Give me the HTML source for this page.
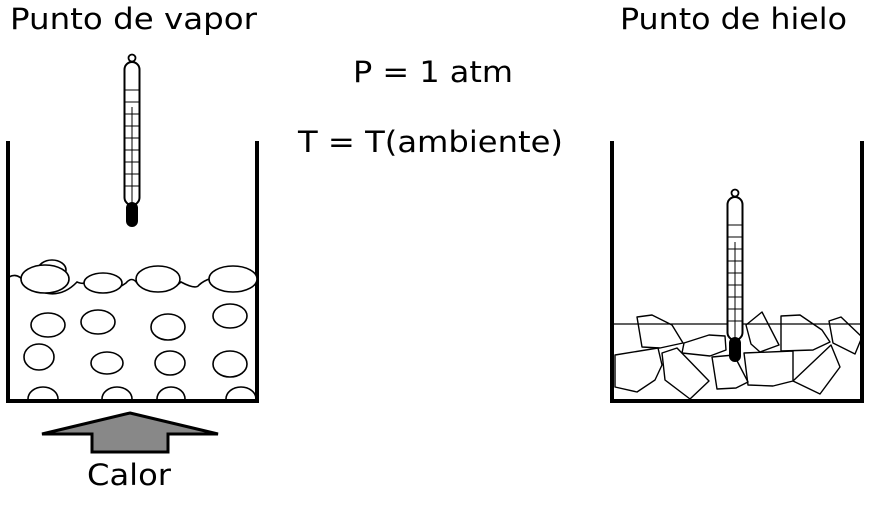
<!DOCTYPE html>
<html><head><meta charset="utf-8"><style>
html,body{margin:0;padding:0;background:#fff;width:885px;height:508px;overflow:hidden}
svg{display:block}
text{font-family:"DejaVu Sans","Liberation Sans",sans-serif;font-size:29px;fill:#000}
</style></head><body>
<svg width="885" height="508" viewBox="0 0 885 508" xmlns="http://www.w3.org/2000/svg">
<defs>
<g id="th">
  <circle cx="0" cy="-4" r="3.5" fill="none" stroke="#000" stroke-width="1.8"/>
  <rect x="-7.5" y="0" width="15" height="143" rx="7.5" fill="#fff" stroke="#000" stroke-width="2"/>
  <rect x="-6" y="140" width="12" height="25" rx="6" fill="#000"/>
  <g stroke="#000" stroke-width="1">
    <line x1="0" y1="45" x2="0" y2="142"/>
    <line x1="-7" y1="28" x2="7" y2="28"/><line x1="-7" y1="40" x2="7" y2="40"/>
    <line x1="-7" y1="52" x2="7" y2="52"/><line x1="-7" y1="64" x2="7" y2="64"/>
    <line x1="-7" y1="76" x2="7" y2="76"/><line x1="-7" y1="88" x2="7" y2="88"/>
    <line x1="-7" y1="100" x2="7" y2="100"/><line x1="-7" y1="112" x2="7" y2="112"/>
    <line x1="-7" y1="124" x2="7" y2="124"/>
  </g>
</g>
</defs>
<text x="10" y="29" textLength="247" lengthAdjust="spacingAndGlyphs">Punto de vapor</text>
<text x="620" y="29" textLength="227" lengthAdjust="spacingAndGlyphs">Punto de hielo</text>
<text x="353" y="82" textLength="160" lengthAdjust="spacingAndGlyphs">P = 1 atm</text>
<text x="298" y="152" textLength="265" lengthAdjust="spacingAndGlyphs">T = T(ambiente)</text>
<text x="87" y="485" textLength="84" lengthAdjust="spacingAndGlyphs">Calor</text>

<!-- left beaker -->
<path d="M8 141 V401 H257 V141" fill="none" stroke="#000" stroke-width="4"/>
<use href="#th" x="132" y="62"/>
<g fill="none" stroke="#000" stroke-width="1.6">
  <ellipse cx="52" cy="270" rx="14" ry="10"/>
  <path d="M9 277 Q18 272 25 283 Q55 305 77 282 Q82 284 84 283 Q102 300 126 283 Q132 276 137 283 Q160 300 181 282 Q196 290 199 285 Q215 270 257 282"/>
  <ellipse cx="45" cy="279" rx="24" ry="14" fill="#fff"/>
  <ellipse cx="103" cy="283" rx="19" ry="10" fill="#fff"/>
  <ellipse cx="158" cy="279" rx="22" ry="13" fill="#fff"/>
  <ellipse cx="233" cy="279" rx="24" ry="13" fill="#fff"/>
  <ellipse cx="48" cy="325" rx="17" ry="12"/>
  <ellipse cx="98" cy="322" rx="17" ry="12"/>
  <ellipse cx="168" cy="327" rx="17" ry="13"/>
  <ellipse cx="230" cy="316" rx="17" ry="12"/>
  <ellipse cx="39" cy="357" rx="15" ry="13"/>
  <ellipse cx="107" cy="363" rx="16" ry="11"/>
  <ellipse cx="170" cy="363" rx="15" ry="12"/>
  <ellipse cx="230" cy="364" rx="17" ry="13"/>
  <path d="M28 399 A15 12 0 0 1 58 399"/>
  <path d="M102 399 A15 12 0 0 1 132 399"/>
  <path d="M157 399 A14 12 0 0 1 185 399"/>
  <path d="M226 399 A15 12 0 0 1 256 399"/>
</g>
<polygon points="130,413 218,434 168,434 168,452 92,452 92,434 42,434" fill="#888" stroke="#000" stroke-width="3" stroke-linejoin="miter"/>

<!-- right beaker -->
<path d="M612 141 V401 H862 V141" fill="none" stroke="#000" stroke-width="4"/>
<line x1="614" y1="324" x2="861" y2="324" stroke="#000" stroke-width="1.3"/>
<g fill="none" stroke="#000" stroke-width="1.4" stroke-linejoin="round">
  <polygon points="637,317 652,315 672,325 683,343 660,348 642,347"/>
  <polygon points="615,355 658,348 662,365 655,380 637,392 615,387"/>
  <polygon points="662,353 677,348 709,381 690,399 665,380"/>
  <polygon points="684,343 709,335 725,336 726,350 710,356 682,353"/>
  <polygon points="712,357 734,355 748,382 736,388 717,389"/>
  <polygon points="746,325 762,312 779,345 760,352 751,344"/>
  <polygon points="781,316 800,315 822,330 830,342 813,350 781,351"/>
  <polygon points="744,353 793,351 793,381 773,386 748,385"/>
  <polygon points="793,381 831,345 840,367 820,394"/>
  <polygon points="829,321 841,317 862,337 855,354 833,343"/>
</g>
<use href="#th" x="735" y="197"/>
</svg>
</body></html>
